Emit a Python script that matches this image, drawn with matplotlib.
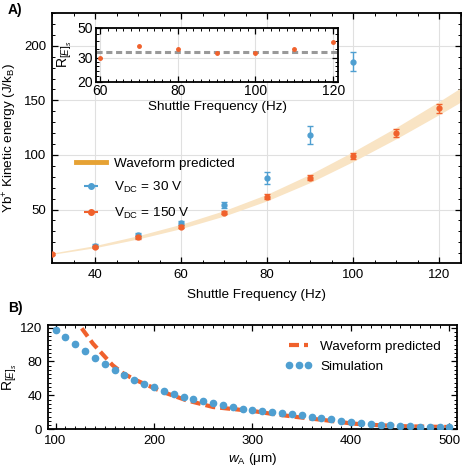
import numpy as np
import matplotlib
matplotlib.use('Agg')
import matplotlib.pyplot as plt
from matplotlib.ticker import MultipleLocator, FixedLocator, FixedFormatter, NullFormatter

plt.rcParams['font.family'] = ['Liberation Sans', 'DejaVu Sans']
plt.rcParams['mathtext.fontset'] = 'custom'
plt.rcParams['mathtext.rm'] = 'Liberation Sans'
plt.rcParams['mathtext.it'] = 'Liberation Sans:italic'
plt.rcParams['mathtext.bf'] = 'Liberation Sans:bold'

# ---- panel A data ----
freq_150 = [30, 40, 50, 60, 70, 80, 90, 100, 110, 120]
energy_150 = [9.2, 15.8, 24.4, 34.4, 47.0, 61.9, 79.3, 99.2, 120.0, 142.8]
err_150 = [1.0, 1.2, 1.5, 1.5, 1.5, 2.0, 2.5, 3.0, 3.5, 4.0]

freq_30 = [40, 50, 60, 70, 80, 90, 100]
energy_30 = [17.0, 26.2, 37.8, 54.0, 79.3, 118.4, 185.6]
err_30 = [1.5, 2.0, 2.0, 3.0, 5.5, 8.0, 9.0]

band_freq = [30, 40, 50, 60, 70, 80, 90, 100, 110, 120, 125]
band_center = [9.5, 16.0, 24.5, 34.5, 46.5, 61.0, 78.5, 98.5, 120.0, 143.0, 155.0]
band_half = [0.6, 1.0, 1.5, 2.0, 2.5, 3.0, 3.8, 4.5, 5.2, 6.0, 6.5]

# inset
inset_freq = [60, 70, 80, 90, 100, 110, 120]
inset_ratio = [30.0, 36.8, 34.8, 32.4, 32.5, 34.8, 38.9]
inset_mean = 33.0

# ---- panel B data ----
w_sim = list(range(100, 510, 10))
r_sim = [116.8, 108.9, 101.0, 92.4, 84.6, 77.5, 70.0, 64.0, 58.6, 53.5,
         49.6, 45.2, 41.3, 38.5, 35.8, 33.8, 30.7, 28.7, 26.8, 24.4,
         23.2, 21.6, 20.9, 19.7, 18.0, 16.5, 14.5, 13.3, 11.8, 10.2,
         8.6, 7.5, 6.3, 5.5, 4.7, 3.9, 3.5, 3.1, 2.7, 2.7, 2.3]

w_pred = [120, 126, 138, 158, 169, 182, 209, 233, 260, 279, 301, 318, 345, 375, 402, 430, 457, 501]
r_pred = [135, 120, 101, 75.5, 65.7, 57.8, 44.0, 34.2, 26.3, 24.0, 21.5, 18.5, 14.5, 10.6, 6.7, 4.7, 3.5, 2.7]

blue = '#4f9fd1'
orange = '#f0612c'
band_col = '#f9e4c4'
gold = '#e6a234'

fig = plt.figure(figsize=(4.63, 4.76), dpi=100)

def style_axes(ax):
  ax.tick_params(which='both', direction='in', top=True, right=True, labelsize=9.5, pad=4)
  ax.tick_params(which='major', length=4, width=0.9)
  ax.tick_params(which='minor', length=2, width=0.7)
  for s in ax.spines.values():
    s.set_linewidth(1.3)

# ---- Panel A ----
axA = fig.add_axes([0.1123, 0.4475, 0.8827, 0.525])
axA.fill_between(band_freq, np.array(band_center) - np.array(band_half),
                 np.array(band_center) + np.array(band_half), color=band_col, lw=0, zorder=1)
axA.errorbar(freq_30, energy_30, yerr=err_30, fmt='o', color=blue, ms=3.5, capsize=2,
             elinewidth=1, capthick=1, zorder=3)
axA.errorbar(freq_150, energy_150, yerr=err_150, fmt='o', color=orange, ms=3.5, capsize=2,
             elinewidth=1, capthick=1, zorder=4)
axA.set_xlim(30, 125)
axA.set_ylim(1, 230)
axA.xaxis.set_major_locator(MultipleLocator(20))
axA.xaxis.set_minor_locator(MultipleLocator(5))
axA.yaxis.set_major_locator(MultipleLocator(50))
axA.yaxis.set_minor_locator(MultipleLocator(10))
axA.grid(True, which='major', color='#e0e0e0', lw=0.8, zorder=0)
axA.set_axisbelow(True)
style_axes(axA)
axA.set_xlabel('Shuttle Frequency (Hz)', fontsize=9.7, labelpad=6)
axA.set_ylabel(r'Yb$^{+}$ Kinetic energy (J/k$_{\mathrm{B}}$)', fontsize=9.7)
axA.yaxis.set_label_coords(-0.081, 0.5)

# legend entries
hw, = axA.plot([], [], color=gold, lw=3.5, label='Waveform predicted')
h30 = axA.errorbar([], [], xerr=[], fmt='o', color=blue, ms=4, capsize=3, elinewidth=1.5,
                   capthick=1.2, label=r'V$_{\mathrm{DC}}$ = 30 V')
h150 = axA.errorbar([], [], xerr=[], fmt='o', color=orange, ms=4, capsize=3, elinewidth=1.5,
                    capthick=1.2, label=r'V$_{\mathrm{DC}}$ = 150 V')
axA.legend(handles=[hw, h30, h150], loc='upper left', bbox_to_anchor=(0.03, 0.47),
           frameon=False, fontsize=9.7, handlelength=2.2, labelspacing=0.75, handletextpad=0.6)

# ---- Inset ----
axI = fig.add_axes([0.2067, 0.8284, 0.524, 0.1134])
axI.axhline(inset_mean, color='#999999', lw=2.2, ls=(0, (2, 1.2)), zorder=2)
axI.plot(inset_freq, inset_ratio, 'o', color=orange, ms=2.5, zorder=3)
axI.set_yscale('log')
axI.set_xlim(58.9, 121.3)
axI.set_ylim(20, 50)
axI.yaxis.set_major_locator(FixedLocator([20, 30, 50]))
axI.yaxis.set_major_formatter(FixedFormatter(['20', '30', '50']))
axI.yaxis.set_minor_locator(FixedLocator([22, 24, 26, 28, 35, 40, 45]))
axI.yaxis.set_minor_formatter(NullFormatter())
axI.xaxis.set_major_locator(MultipleLocator(20))
axI.xaxis.set_minor_locator(MultipleLocator(2))
axI.grid(True, which='major', color='#e0e0e0', lw=0.8)
axI.set_axisbelow(True)
style_axes(axI)
axI.tick_params(which='major', labelsize=10, pad=2)
axI.set_xlabel('Shuttle Frequency (Hz)', fontsize=9.7, labelpad=2)
axI.set_ylabel(r'R$_{[E]_s}$', fontsize=10)
axI.yaxis.set_label_coords(-0.09, 0.5)

# ---- Panel B ----
axB = fig.add_axes([0.103, 0.0981, 0.8847, 0.2191])
axB.plot(w_pred, r_pred, color=orange, lw=3, ls=(0, (2.4, 1.2)), label='Waveform predicted', zorder=2)
axB.plot(w_sim, r_sim, 'o', color=blue, ms=4.5, ls='none', label='Simulation', zorder=3)
axB.set_xlim(92, 508)
axB.set_ylim(0, 123)
axB.xaxis.set_major_locator(MultipleLocator(100))
axB.xaxis.set_minor_locator(MultipleLocator(10))
axB.yaxis.set_major_locator(MultipleLocator(40))
axB.yaxis.set_minor_locator(MultipleLocator(5))
style_axes(axB)
axB.set_xlabel(r'$w_{\mathrm{A}}$ ($\mathrm{\mu}$m)', fontsize=9.7, labelpad=3)
axB.set_ylabel(r'R$_{[E]_s}$', fontsize=10)
axB.yaxis.set_label_coords(-0.07, 0.5)
axB.legend(loc='upper right', bbox_to_anchor=(0.99, 0.97), frameon=False, fontsize=9.7,
           handlelength=2.0, labelspacing=0.6, handletextpad=0.6, numpoints=3)

fig.text(0.017, 0.993, 'A)', fontsize=10, fontweight='bold', va='top')
fig.text(0.017, 0.367, 'B)', fontsize=10, fontweight='bold', va='top')

fig.savefig('out.png', dpi=100)
